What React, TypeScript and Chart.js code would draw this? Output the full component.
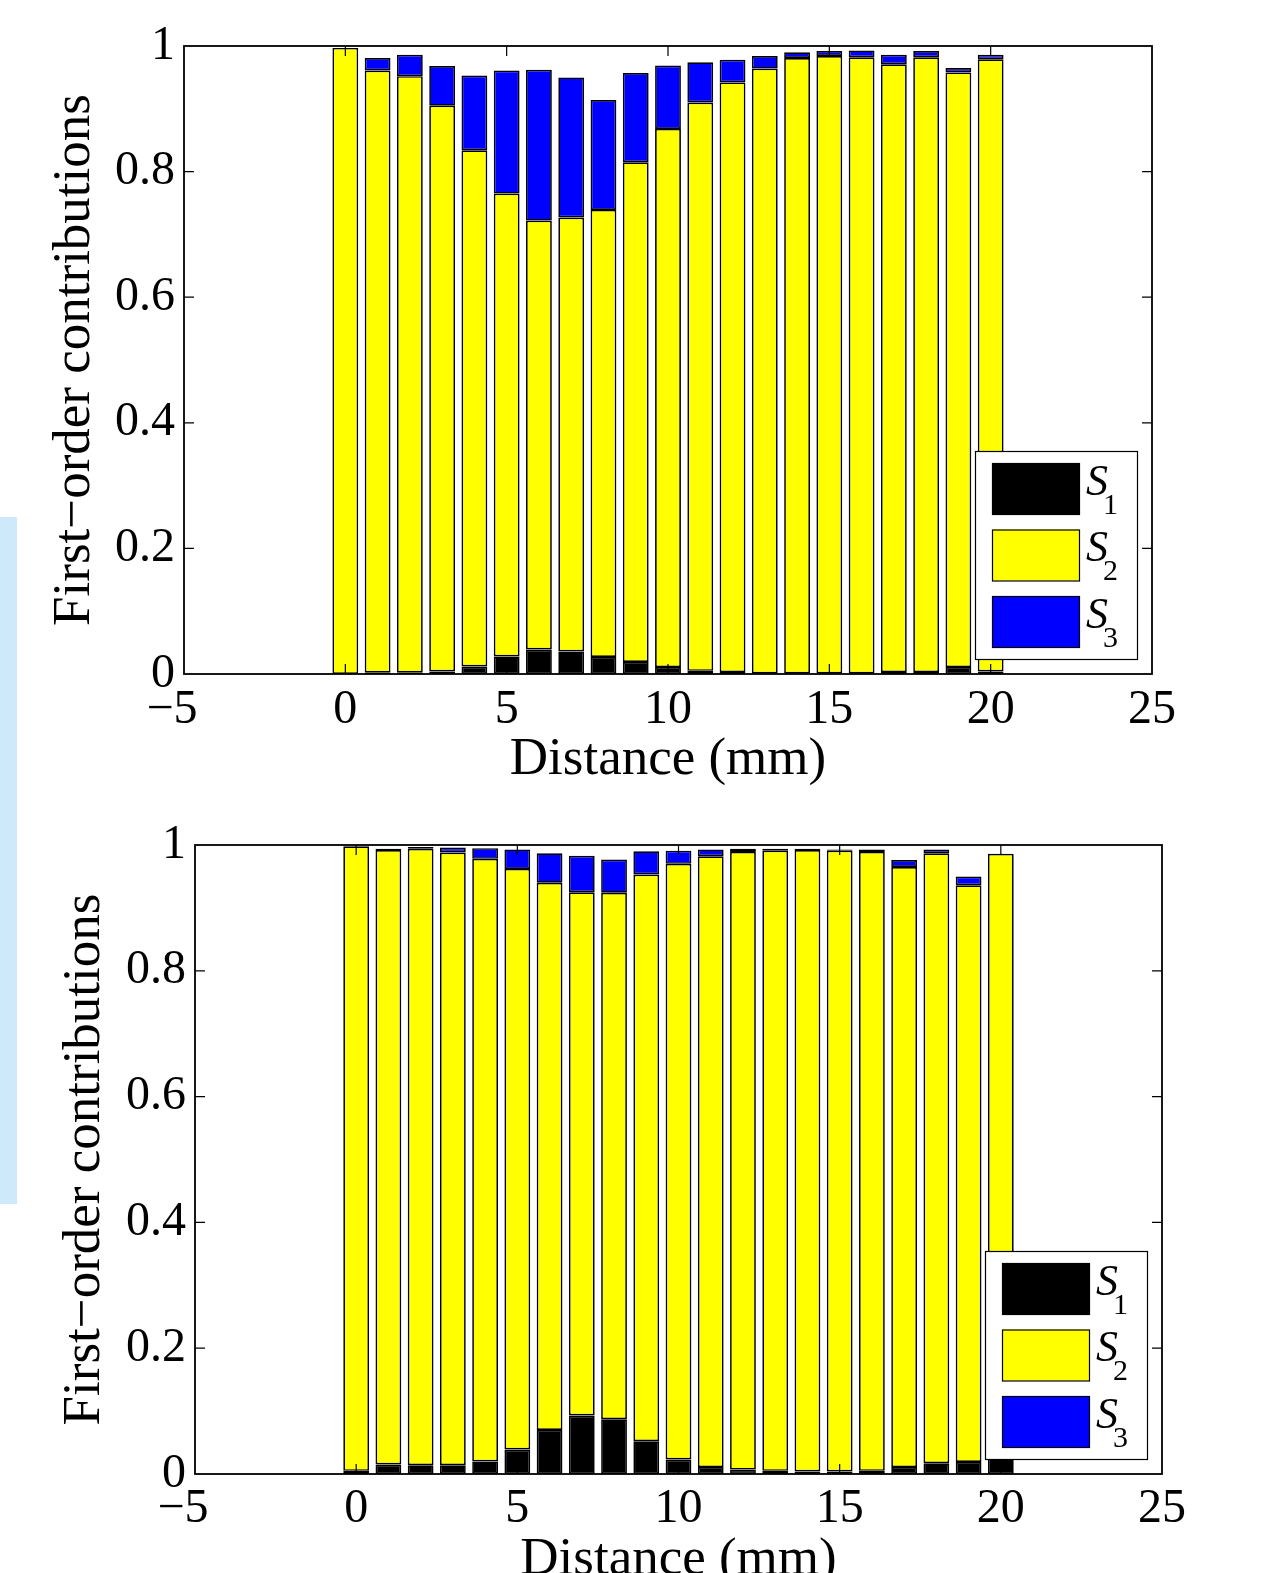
import React, { useEffect, useRef } from "react";
import { Chart, registerables } from "chart.js";

Chart.register(...registerables);

// Distance along the sample (mm), one stacked bar per position
const distances = [0, 1, 2, 3, 4, 5, 6, 7, 8, 9, 10, 11, 12, 13, 14, 15, 16, 17, 18, 19, 20];

// Upper panel: first-order sensitivity indices
const upperS1 = [0, 0.002, 0.002, 0.004, 0.012, 0.028, 0.039, 0.036, 0.027, 0.019, 0.011, 0.005, 0.003, 0.001, 0.001, 0.001, 0.001, 0.003, 0.003, 0.011, 0.004];
const upperS2 = [0.997, 0.959, 0.95, 0.901, 0.822, 0.737, 0.683, 0.691, 0.712, 0.796, 0.857, 0.905, 0.939, 0.963, 0.98, 0.983, 0.981, 0.968, 0.979, 0.947, 0.975];
const upperS3 = [0, 0.02, 0.034, 0.063, 0.119, 0.196, 0.24, 0.223, 0.175, 0.142, 0.101, 0.064, 0.036, 0.02, 0.009, 0.008, 0.011, 0.015, 0.01, 0.007, 0.007];

// Lower panel: first-order sensitivity indices
const lowerS1 = [0.005, 0.015, 0.014, 0.014, 0.02, 0.039, 0.07, 0.093, 0.087, 0.052, 0.023, 0.011, 0.007, 0.005, 0.004, 0.004, 0.005, 0.011, 0.017, 0.019, 0.025];
const lowerS2 = [0.993, 0.977, 0.98, 0.974, 0.958, 0.923, 0.87, 0.832, 0.837, 0.901, 0.947, 0.971, 0.982, 0.986, 0.988, 0.987, 0.984, 0.954, 0.97, 0.917, 0.961];
const lowerS3 = [0, 0.002, 0.003, 0.008, 0.017, 0.031, 0.047, 0.058, 0.053, 0.037, 0.021, 0.011, 0.005, 0.003, 0.002, 0.002, 0.004, 0.011, 0.006, 0.014, 0];

const seriesNames = ["S", "S", "S"];
const seriesSubscripts = ["1", "2", "3"];
const seriesColors = ["#000000", "#ffff00", "#0000ff"];

const xMin = -5;
const xMax = 25;
const xStep = 5;
const yMin = 0;
const yMax = 1;
const yStep = 0.2;

const xTitle = "Distance (mm)";
const yTitle = "First\u2212order contributions";

const SERIF = "'Liberation Serif', 'Times New Roman', serif";

// Box around the axes with inward tick marks on all four sides
const axesFrame = {
  id: "axesFrame",
  afterDatasetsDraw(chart: any) {
    const { ctx, chartArea: a, scales } = chart;
    const len = 10;
    ctx.save();
    ctx.strokeStyle = "#000";
    ctx.lineWidth = 1.2;
    ctx.beginPath();
    for (const t of scales.x.ticks) {
      const px = scales.x.getPixelForValue(t.value);
      if (px <= a.left + 1 || px >= a.right - 1) continue;
      ctx.moveTo(px, a.bottom);
      ctx.lineTo(px, a.bottom - len);
      ctx.moveTo(px, a.top);
      ctx.lineTo(px, a.top + len);
    }
    for (const t of scales.y.ticks) {
      const py = scales.y.getPixelForValue(t.value);
      if (py <= a.top + 1 || py >= a.bottom - 1) continue;
      ctx.moveTo(a.left, py);
      ctx.lineTo(a.left + len, py);
      ctx.moveTo(a.right, py);
      ctx.lineTo(a.right - len, py);
    }
    ctx.stroke();
    ctx.lineWidth = 1.8;
    ctx.strokeRect(a.left, a.top, a.right - a.left, a.bottom - a.top);
    ctx.restore();
  },
};

// Boxed legend in the lower-right corner, names with subscripts
const cornerLegend = {
  id: "cornerLegend",
  afterDraw(chart: any) {
    const { ctx, chartArea: a } = chart;
    const w = 162;
    const h = 208;
    const left = a.right - 15 - w;
    const top = a.bottom - 15 - h;
    ctx.save();
    ctx.fillStyle = "#fff";
    ctx.fillRect(left, top, w, h);
    ctx.strokeStyle = "#000";
    ctx.lineWidth = 1.2;
    ctx.strokeRect(left + 0.5, top + 0.5, w, h);
    chart.data.datasets.forEach((ds: any, i: number) => {
      const sy = top + 12 + i * 66.5;
      const cy = sy + 25.5;
      ctx.fillStyle = ds.backgroundColor;
      ctx.fillRect(left + 17, sy, 87, 51);
      ctx.lineWidth = 1.2;
      ctx.strokeStyle = "#000";
      ctx.strokeRect(left + 17.5, sy + 0.5, 87, 51);
      ctx.fillStyle = "#000";
      ctx.textBaseline = "alphabetic";
      ctx.textAlign = "left";
      ctx.font = `italic 44px ${SERIF}`;
      ctx.fillText(seriesNames[i], left + 111, cy + 6);
      ctx.font = `30px ${SERIF}`;
      ctx.fillText(seriesSubscripts[i], left + 128, cy + 25);
    });
    ctx.restore();
  },
};

type PanelProps = {
  s1: number[];
  s2: number[];
  s3: number[];
  top: number;
  height: number;
  yAxisWidth: number;
  padRight: number;
  padTop: number;
  xAxisHeight: number;
  yTitlePad: number;
  xTitlePad: number;
  xTickPad: number;
  yTickPad: number;
};

function StackedPanel(p: PanelProps) {
  const ref = useRef<HTMLCanvasElement | null>(null);

  useEffect(() => {
    const canvas = ref.current;
    if (!canvas) return;
    const series = [p.s1, p.s2, p.s3];
    const chart = new Chart(canvas, {
      type: "bar",
      data: {
        datasets: series.map((vals, i) => ({
          label: seriesNames[i] + seriesSubscripts[i],
          data: distances.map((d, j) => ({ x: d, y: vals[j] })),
          backgroundColor: seriesColors[i],
          borderColor: "#000",
          borderWidth: 1.7,
          borderSkipped: false,
          categoryPercentage: 0.8,
          barPercentage: 1,
        })),
      },
      options: {
        animation: false,
        responsive: false,
        devicePixelRatio: 1,
        layout: { padding: { left: 0, right: p.padRight, top: p.padTop, bottom: 0 } },
        plugins: { legend: { display: false }, tooltip: { enabled: false } },
        scales: {
          x: {
            type: "linear",
            stacked: true,
            min: xMin,
            max: xMax,
            offset: false,
            grid: { display: false, drawTicks: false, offset: false },
            border: { display: false },
            ticks: {
              stepSize: xStep,
              autoSkip: false,
              maxRotation: 0,
              padding: p.xTickPad,
              color: "#000",
              font: { family: SERIF, size: 48 },
              // negative labels carry a trailing en space so the digit sits near the tick
              callback: (v: any) => (v < 0 ? "\u2212" + Math.abs(v) + "\u2002" : String(v)),
            },
            title: {
              display: true,
              text: xTitle,
              color: "#000",
              font: { family: SERIF, size: 53 },
              padding: { top: 0, bottom: p.xTitlePad },
            },
            afterFit: (s: any) => {
              s.height = p.xAxisHeight;
            },
          },
          y: {
            stacked: true,
            min: yMin,
            max: yMax,
            grid: { display: false, drawTicks: false },
            border: { display: false },
            ticks: {
              stepSize: yStep,
              padding: p.yTickPad,
              color: "#000",
              font: { family: SERIF, size: 48 },
              callback: (v: any) => String(Math.round(v * 10) / 10),
            },
            title: {
              display: true,
              text: yTitle,
              color: "#000",
              font: { family: SERIF, size: 53 },
              padding: { top: p.yTitlePad, bottom: 0 },
            },
            afterFit: (s: any) => {
              s.width = p.yAxisWidth;
            },
          },
        },
      } as any,
      plugins: [axesFrame, cornerLegend],
    });
    return () => chart.destroy();
  }, []);

  return (
    <canvas
      ref={ref}
      width={1267}
      height={p.height}
      style={{ position: "absolute", left: 0, top: p.top, display: "block" }}
    />
  );
}

export default function App() {
  return (
    <div
      style={{
        position: "fixed",
        left: 0,
        top: 0,
        width: 1267,
        height: 1573,
        overflow: "hidden",
        background: "#fff",
      }}
    >
      <div
        style={{
          position: "absolute",
          left: 0,
          top: 517,
          width: 17,
          height: 687,
          background: "#cde9fa",
        }}
      />
      <StackedPanel
        s1={upperS1}
        s2={upperS2}
        s3={upperS3}
        top={0}
        height={800}
        yAxisWidth={184}
        padRight={115}
        padTop={46}
        xAxisHeight={126}
        yTitlePad={43}
        xTitlePad={8}
        xTickPad={8}
        yTickPad={9}
      />
      <StackedPanel
        s1={lowerS1}
        s2={lowerS2}
        s3={lowerS3}
        top={790}
        height={802}
        yAxisWidth={195}
        padRight={105}
        padTop={55}
        xAxisHeight={118}
        yTitlePad={53}
        xTitlePad={0}
        xTickPad={7}
        yTickPad={9}
      />
    </div>
  );
}
